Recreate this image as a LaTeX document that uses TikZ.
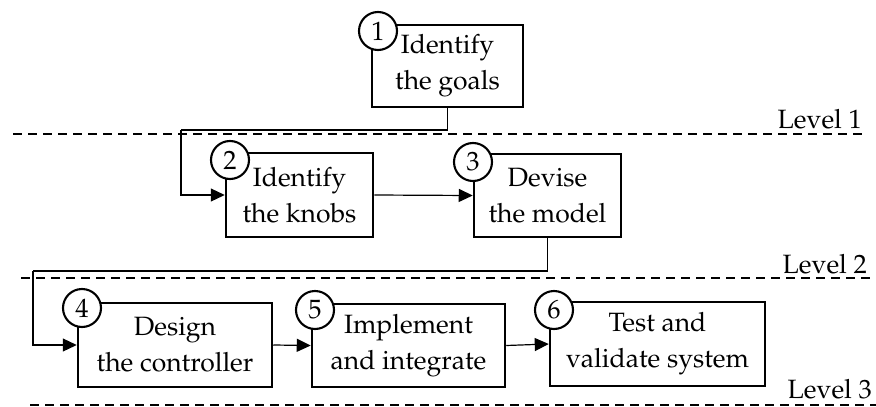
\documentclass[tikz,border=0pt]{standalone}
\usepackage[T1]{fontenc}
\usepackage{mathpazo}
\usetikzlibrary{arrows.meta}
\tikzset{
  stepbox/.style={draw, line width=2.5pt, align=center, inner sep=0pt,
    font=\fontsize{26.5}{36}\selectfont},
  numdisc/.style={draw, circle, fill=white, line width=2.1pt, inner sep=0pt,
    minimum size=38pt, font=\fontsize{26.5}{36}\selectfont},
  conn/.style={line width=1.2pt},
  arr/.style={conn, -{Triangle[length=14pt,width=13pt]}},
  levelline/.style={line width=2.2pt, dash pattern=on 9pt off 6pt},
  levellabel/.style={anchor=base east, inner sep=0pt, font=\fontsize{26.5}{36}\selectfont}
}
\begin{document}
\begin{tikzpicture}[x=1pt, y=-1pt]
  \useasboundingbox (0,0) rectangle (876,407);

  % level separators
  \draw[levelline] (13,134) -- (867,134);
  \draw[levelline] (21,278) -- (876,278);
  \draw[levelline] (30,405) -- (876,405);
  \node[levellabel] (lv1) at (862,128) {Level 1};
  \node[levellabel] (lv2) at (867,273) {Level 2};
  \node[levellabel] (lv3) at (872,398) {Level 3};

  % steps
  \node[stepbox, minimum width=151pt, minimum height=82pt] (b1) at (447.5,66) {Identify\\the goals};
  \node[stepbox, minimum width=147pt, minimum height=84pt] (b2) at (299.5,195) {Identify\\the knobs};
  \node[stepbox, minimum width=147pt, minimum height=83pt] (b3) at (547.5,195.5) {Devise\\the model};
  \node[stepbox, minimum width=194pt, minimum height=84pt] (b4) at (175,345) {Design\\the controller};
  \node[stepbox, minimum width=193pt, minimum height=83pt] (b5) at (408.5,345.5) {Implement\\and integrate};
  \node[stepbox, minimum width=215pt, minimum height=84pt] (b6) at (657.5,344) {Test and\\validate system};

  % step numbers
  \node[numdisc] (n1) at (378,31) {1};
  \node[numdisc] (n2) at (230,160) {2};
  \node[numdisc] (n3) at (473,162) {3};
  \node[numdisc] (n4) at (82,308) {4};
  \node[numdisc] (n5) at (315,310) {5};
  \node[numdisc] (n6) at (554,310) {6};

  % flow between steps
  \coordinate (k1) at (181,130);
  \coordinate (k2) at (33,271);
  \draw[conn] (b1.south) |- (k1);
  \draw[arr] (k1) |- (b2.west);
  \draw[arr] (b2.east) -- (b3.west);
  \draw[conn] (b3.south) |- (k2);
  \draw[arr] (k2) |- (b4.west);
  \draw[arr] (b4.east) -- (b5.west);
  \draw[arr] (b5.east) -- (b6.west);
\end{tikzpicture}
\end{document}
